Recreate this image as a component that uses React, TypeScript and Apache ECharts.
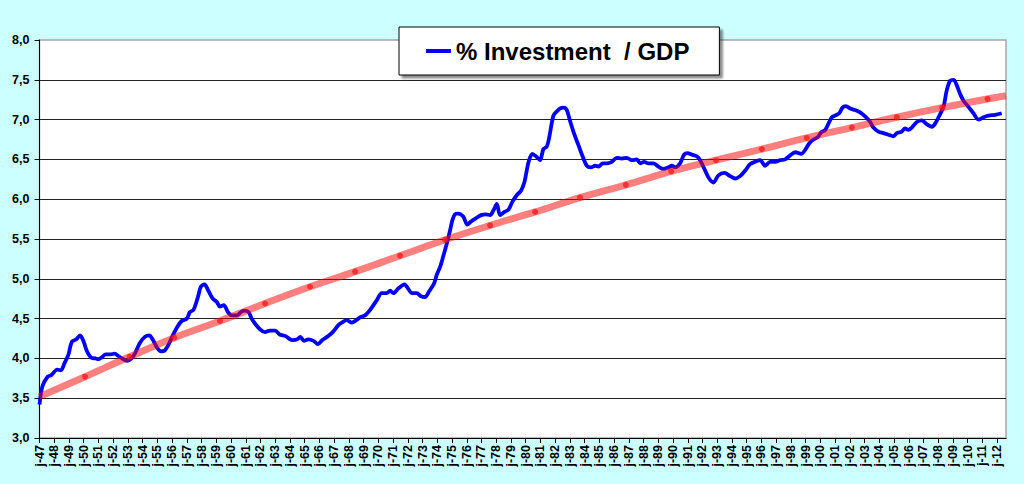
import React, { useEffect, useRef } from "react";
import * as echarts from "echarts";

// Blue series: [year, % investment / GDP]
const investYears = [
  1947.0, 1947.2, 1947.55, 1947.8, 1948.2, 1948.45, 1948.7, 1948.95, 1949.2, 1949.5, 1949.75, 1950.0, 1950.2, 1950.5, 1950.8,
  1951.0, 1951.2, 1951.5, 1951.8, 1952.1, 1952.35, 1952.6, 1952.95, 1953.25, 1953.5, 1953.8, 1954.15, 1954.45, 1954.7, 1955.0,
  1955.25, 1955.5, 1955.75, 1956.0, 1956.3, 1956.65, 1957.0, 1957.2, 1957.45, 1957.75, 1957.95,
  1958.2, 1958.46, 1958.76, 1959.03, 1959.25, 1959.5, 1959.8, 1960.05, 1960.4, 1960.65, 1960.9, 1961.2, 1961.4, 1961.7, 1962.0,
  1962.3, 1962.65, 1963.0, 1963.3, 1963.7, 1964.0, 1964.2, 1964.5, 1964.7, 1964.95, 1965.25, 1965.6, 1965.9, 1966.2, 1966.6,
  1966.95, 1967.3, 1967.6, 1967.85, 1968.2, 1968.5, 1968.8, 1969.1, 1969.4,
  1969.89, 1970.23, 1970.57, 1970.8, 1971.02, 1971.36, 1971.77, 1972.04, 1972.27, 1972.6, 1972.9, 1973.17, 1973.44, 1973.78,
  1973.96, 1974.19, 1974.4, 1974.64, 1974.87, 1975.03, 1975.2, 1975.43, 1975.77, 1976.04, 1976.29, 1976.61, 1976.97, 1977.29,
  1977.58, 1977.81, 1978.04, 1978.26, 1978.56, 1978.83, 1979.1, 1979.39, 1979.69, 1979.92, 1980.07, 1980.23,
  1980.45, 1980.75, 1980.98, 1981.2, 1981.43, 1981.6, 1981.88, 1982.1, 1982.34, 1982.56, 1982.79, 1983.0, 1983.29, 1983.58,
  1983.88, 1984.15, 1984.42, 1984.71, 1984.94, 1985.23, 1985.5, 1985.84, 1986.18, 1986.52, 1986.86, 1987.2, 1987.54, 1987.77,
  1988.04, 1988.33, 1988.67, 1989.01, 1989.35, 1989.69, 1989.92, 1990.14, 1990.48, 1990.75, 1990.98, 1991.28, 1991.61,
  1991.84, 1992.18, 1992.45, 1992.74, 1993.08, 1993.49, 1993.88, 1994.22, 1994.55, 1994.9, 1995.23, 1995.57, 1995.91, 1996.25,
  1996.59, 1996.93, 1997.27, 1997.61, 1997.95, 1998.29, 1998.7, 1998.97, 1999.24, 1999.53, 1999.83, 2000.05, 2000.33, 2000.55,
  2000.78, 2001.0, 2001.28, 2001.5, 2001.73, 2002.02, 2002.36,
  2002.7, 2003.04, 2003.38, 2003.6, 2003.94, 2004.28, 2004.62, 2004.96, 2005.19, 2005.53, 2005.75, 2005.98, 2006.21, 2006.55,
  2006.89, 2007.23, 2007.56, 2007.79, 2008.13, 2008.36, 2008.58, 2008.81, 2009.04, 2009.26, 2009.49, 2009.71, 2010.05, 2010.39,
  2010.73, 2011.07, 2011.41, 2011.86, 2012.31,
];
const investValues = [
  3.42, 3.65, 3.77, 3.79, 3.86, 3.85, 3.94, 4.04, 4.21, 4.24, 4.29, 4.21, 4.1, 4.01, 4.0,
  3.99, 4.01, 4.05, 4.05, 4.06, 4.03, 4.0, 3.97, 4.0, 4.07, 4.19, 4.27, 4.29, 4.23, 4.13,
  4.09, 4.1, 4.17, 4.27, 4.38, 4.47, 4.5, 4.58, 4.61, 4.77, 4.9,
  4.93, 4.85, 4.75, 4.71, 4.65, 4.67, 4.58, 4.54, 4.54, 4.58, 4.6, 4.58, 4.5, 4.42, 4.36,
  4.33, 4.35, 4.35, 4.3, 4.28, 4.24, 4.23, 4.24, 4.27, 4.22, 4.24, 4.22, 4.18, 4.23, 4.28,
  4.34, 4.42, 4.46, 4.48, 4.45, 4.48, 4.52, 4.54, 4.6,
  4.73, 4.82, 4.82, 4.85, 4.82, 4.88, 4.93, 4.87, 4.82, 4.82, 4.78, 4.77, 4.84, 4.94,
  5.05, 5.15, 5.28, 5.44, 5.61, 5.74, 5.81, 5.82, 5.78, 5.68, 5.72, 5.76, 5.8, 5.81,
  5.8, 5.86, 5.94, 5.8, 5.84, 5.87, 5.97, 6.05, 6.11, 6.22, 6.36, 6.49,
  6.57, 6.53, 6.49, 6.63, 6.66, 6.78, 7.05, 7.1, 7.14, 7.15, 7.12, 6.99, 6.82, 6.68,
  6.53, 6.42, 6.4, 6.42, 6.41, 6.45, 6.45, 6.47, 6.52, 6.51, 6.52, 6.49, 6.5, 6.45,
  6.47, 6.45, 6.45, 6.41, 6.38, 6.4, 6.42, 6.4, 6.45, 6.56, 6.58, 6.56, 6.54,
  6.49, 6.36, 6.26, 6.21, 6.3, 6.33, 6.29, 6.26, 6.29, 6.36, 6.44, 6.47, 6.49, 6.42,
  6.47, 6.47, 6.49, 6.5, 6.55, 6.59, 6.57, 6.62, 6.7, 6.75, 6.78, 6.84, 6.87, 6.95,
  7.03, 7.05, 7.08, 7.15, 7.17, 7.14, 7.12,
  7.09, 7.04, 6.97, 6.9, 6.85, 6.83, 6.81, 6.79, 6.83, 6.85, 6.89, 6.87, 6.9, 6.97,
  6.99, 6.94, 6.91, 6.95, 7.07, 7.16, 7.37, 7.49, 7.5, 7.43, 7.32, 7.24, 7.16, 7.08,
  7.0, 7.03, 7.05, 7.06, 7.08,
];

// Red trend line: points read at its dots (and its two ends)
const trendYears = [
  1947.0, 1950.09, 1953.11, 1956.15, 1959.25, 1962.31, 1965.36, 1968.42, 1971.47, 1974.53, 1977.58,
  1980.64, 1983.69, 1986.8, 1989.87, 1992.92, 1996.03, 1999.08, 2002.14, 2005.19, 2008.27, 2011.35, 2012.6,
];
const trendValues = [
  3.52, 3.77, 4.02, 4.26, 4.47, 4.69, 4.9, 5.09, 5.29, 5.49, 5.67,
  5.84, 6.02, 6.18, 6.35, 6.49, 6.63, 6.77, 6.9, 7.03, 7.15, 7.26, 7.3,
];
const trendDotFlags = [
  false, true, true, true, true, true, true, true, true, true, true,
  true, true, true, true, true, true, true, true, true, true, true, false,
];

const seriesName = "% Investment  / GDP";
const xMin = 1947;
const xMax = 2012.6;
const yMin = 3;
const yMax = 8;

const FONT = "'Liberation Sans', Arial, sans-serif";

export default function App() {
  const ref = useRef<HTMLDivElement>(null);

  useEffect(() => {
    document.body.style.margin = "0";
    document.body.style.background = "#CCFFFF";
    const chart = echarts.init(ref.current!, null, { renderer: "svg" });
    const investData = investYears.map((y, i) => [y, investValues[i]]);
    const trendData = trendYears.map((y, i) => ({
      value: [y, trendValues[i]],
      symbol: trendDotFlags[i] ? "circle" : "none",
    }));
    chart.setOption({
      animation: false,
      backgroundColor: "#CCFFFF",
      textStyle: { fontFamily: FONT },
      grid: {
        left: 39.5,
        right: 18,
        top: 40,
        bottom: 46,
        show: true,
        backgroundColor: "#ffffff",
        borderColor: "#a6a6a6",
        borderWidth: 1.5,
      },
      legend: {
        left: 399,
        top: 27,
        padding: [12, 30, 12, 27],
        itemWidth: 25,
        itemHeight: 4,
        backgroundColor: "#ffffff",
        borderColor: "#000000",
        borderWidth: 1,
        shadowColor: "rgba(0,0,0,0.45)",
        shadowBlur: 2,
        shadowOffsetX: 3,
        shadowOffsetY: 3,
        data: [{ name: seriesName, icon: "rect" }],
        textStyle: { fontSize: 24, fontWeight: "bold", color: "#000", fontFamily: FONT },
      },
      xAxis: {
        type: "value",
        min: xMin,
        max: xMax,
        interval: 1,
        axisLine: { show: true, lineStyle: { color: "#000", width: 1 } },
        axisTick: { show: true, length: 5, lineStyle: { color: "#000" } },
        splitLine: { show: false },
        axisLabel: {
          rotate: 90,
          margin: 7,
          fontSize: 12.5,
          fontWeight: "bold",
          color: "#000",
          fontFamily: FONT,
          showMaxLabel: false,
          formatter: (v: number) =>
            Math.abs(v - Math.round(v)) < 1e-6 ? "j-" + String(Math.round(v)).slice(2) : "",
        },
      },
      yAxis: {
        type: "value",
        min: yMin,
        max: yMax,
        interval: 0.5,
        axisLine: { show: true, lineStyle: { color: "#000", width: 1 } },
        axisTick: { show: true, length: 5, lineStyle: { color: "#000" } },
        splitLine: { show: true, showMaxLine: false, showMinLine: false, lineStyle: { color: "#222", width: 1 } },
        axisLabel: {
          margin: 10,
          fontSize: 12.5,
          fontWeight: "bold",
          color: "#000",
          fontFamily: FONT,
          formatter: (v: number) => v.toFixed(1).replace(".", ","),
        },
      },
      series: [
        {
          name: seriesName,
          type: "line",
          data: investData,
          showSymbol: false,
          symbol: "none",
          smooth: 0.3,
          z: 2,
          lineStyle: { color: "#0000ff", width: 3.8 },
          itemStyle: { color: "#0000ff" },
        },
        {
          name: "trend",
          type: "line",
          data: trendData,
          smooth: 0.4,
          symbolSize: 6,
          showAllSymbol: true,
          z: 3,
          lineStyle: { color: "rgba(255,0,0,0.5)", width: 7 },
          itemStyle: { color: "rgba(255,20,20,0.75)", borderWidth: 0 },
        },
      ],
    });
    return () => chart.dispose();
  }, []);

  return <div ref={ref} style={{ width: 1024, height: 484 }} />;
}
